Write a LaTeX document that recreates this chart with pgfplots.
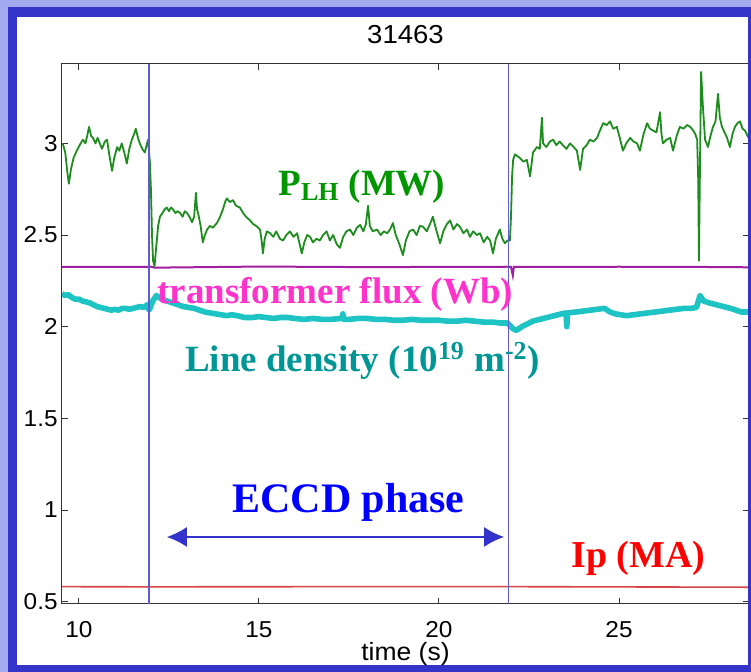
\documentclass[border=0pt]{standalone}
\usepackage{fontspec}
\setmainfont{Liberation Serif}
\newfontfamily\mlfont[FakeStretch=1.06]{Liberation Sans}
\usepackage{pgfplots}
\pgfplotsset{compat=1.18}
\usetikzlibrary{arrows.meta}
\definecolor{bgout}{RGB}{165,170,240}
\definecolor{frameblue}{RGB}{52,52,200}
\definecolor{plhline}{RGB}{30,140,30}
\definecolor{denline}{RGB}{30,195,195}
\definecolor{fluxline}{RGB}{160,30,160}
\definecolor{ipline}{RGB}{215,70,70}
\definecolor{vline}{RGB}{95,90,215}
\definecolor{plhtext}{RGB}{0,150,0}
\definecolor{fluxtext}{RGB}{255,51,204}
\definecolor{dentext}{RGB}{0,150,150}
\definecolor{eccdtext}{RGB}{0,0,255}
\definecolor{iptext}{RGB}{255,0,0}
\definecolor{arrowc}{RGB}{51,51,204}

\pgfplotstableread{
t v
9.55 3.00
9.62 2.95
9.68 2.84
9.72 2.78
9.78 2.86
9.85 2.92
9.94 2.96
10.02 2.99
10.11 3.02
10.18 3.00
10.24 3.05
10.28 3.09
10.34 3.04
10.39 3.03
10.46 3.00
10.52 3.03
10.58 3.00
10.64 2.97
10.72 3.01
10.78 3.02
10.85 2.93
10.92 2.85
10.98 2.92
11.06 2.98
11.12 2.96
11.19 3.00
11.26 2.95
11.33 2.89
11.40 2.97
11.47 3.02
11.53 3.05
11.58 3.08
11.64 3.03
11.69 3.00
11.76 2.97
11.83 2.95
11.88 2.99
11.92 3.02
11.97 2.90
12.00 2.75
12.03 2.50
12.06 2.36
12.10 2.33
12.14 2.42
12.20 2.55
12.25 2.60
12.32 2.62
12.38 2.64
12.44 2.65
12.50 2.63
12.56 2.65
12.61 2.64
12.68 2.62
12.74 2.63
12.81 2.62
12.88 2.60
12.94 2.63
13.00 2.62
13.07 2.60
13.14 2.57
13.20 2.60
13.25 2.73
13.28 2.64
13.31 2.62
13.38 2.55
13.44 2.46
13.50 2.50
13.56 2.53
13.64 2.55
13.72 2.54
13.83 2.565
13.92 2.60
14.00 2.64
14.06 2.68
14.11 2.70
14.19 2.68
14.28 2.69
14.36 2.66
14.47 2.65
14.56 2.62
14.64 2.60
14.75 2.58
14.84 2.56
14.92 2.55
15.03 2.53
15.08 2.46
15.11 2.40
15.16 2.48
15.22 2.52
15.31 2.51
15.40 2.49
15.48 2.52
15.58 2.48
15.67 2.47
15.76 2.50
15.86 2.52
15.96 2.49
16.06 2.51
16.13 2.45
16.19 2.40
16.26 2.46
16.34 2.50
16.42 2.49
16.50 2.46
16.60 2.48
16.69 2.47
16.78 2.50
16.88 2.52
16.97 2.47
17.06 2.50
17.16 2.45
17.25 2.43
17.34 2.49
17.43 2.52
17.53 2.53
17.62 2.50
17.72 2.54
17.81 2.555
17.90 2.52
17.97 2.56
18.03 2.66
18.08 2.55
18.16 2.52
18.28 2.53
18.38 2.50
18.47 2.52
18.56 2.51
18.64 2.53
18.72 2.565
18.80 2.50
18.90 2.45
19.00 2.39
19.08 2.47
19.18 2.52
19.28 2.53
19.38 2.50
19.47 2.55
19.56 2.545
19.66 2.52
19.75 2.56
19.83 2.60
19.92 2.53
20.03 2.455
20.12 2.52
20.22 2.56
20.31 2.58
20.40 2.53
20.50 2.56
20.58 2.545
20.68 2.51
20.78 2.53
20.86 2.49
20.95 2.52
21.05 2.50
21.14 2.51
21.24 2.46
21.34 2.49
21.42 2.47
21.50 2.40
21.58 2.48
21.69 2.53
21.76 2.48
21.83 2.455
21.90 2.47
21.97 2.47
22.00 2.60
22.03 2.82
22.06 2.91
22.11 2.94
22.18 2.93
22.25 2.92
22.34 2.90
22.44 2.91
22.53 2.82
22.61 2.95
22.72 2.98
22.80 2.97
22.86 3.14
22.89 3.00
22.98 2.98
23.08 3.01
23.17 3.02
23.26 2.99
23.35 3.01
23.44 2.99
23.54 2.97
23.64 3.00
23.74 2.98
23.83 2.96
23.92 2.855
24.00 2.97
24.10 2.99
24.19 3.02
24.29 3.01
24.39 3.03
24.47 3.07
24.56 3.11
24.66 3.10
24.75 3.12
24.84 3.08
24.94 3.09
25.02 3.03
25.11 2.96
25.20 3.00
25.31 3.03
25.40 3.01
25.50 3.00
25.58 2.96
25.68 3.05
25.78 3.11
25.86 3.08
25.94 3.07
26.04 3.06
26.14 3.17
26.18 3.05
26.22 3.00
26.32 3.02
26.42 3.03
26.50 2.96
26.60 3.04
26.69 3.09
26.79 3.08
26.89 3.10
26.98 3.09
27.06 3.07
27.12 3.05
27.17 3.02
27.20 2.80
27.22 2.36
27.25 2.90
27.28 3.39
27.33 3.20
27.39 3.02
27.47 2.98
27.54 3.04
27.61 3.09
27.68 3.12
27.75 3.27
27.80 3.14
27.86 3.09
27.93 3.06
28.00 3.03
28.08 2.98
28.15 3.05
28.22 3.09
28.29 3.11
28.36 3.12
28.43 3.08
28.50 3.07
28.57 3.04
28.64 3.02
}\plhdata

\pgfplotstableread{
t v
9.53 2.18
9.62 2.17
9.70 2.175
9.80 2.16
9.90 2.15
10.00 2.15
10.10 2.14
10.20 2.135
10.30 2.13
10.40 2.12
10.50 2.11
10.60 2.105
10.70 2.10
10.80 2.095
10.90 2.09
11.00 2.095
11.10 2.09
11.20 2.10
11.30 2.10
11.40 2.095
11.50 2.10
11.60 2.105
11.70 2.11
11.80 2.105
11.90 2.12
11.95 2.09
12.05 2.14
12.15 2.17
12.30 2.15
12.45 2.14
12.60 2.13
12.75 2.12
12.90 2.11
13.05 2.105
13.20 2.10
13.35 2.09
13.50 2.08
13.65 2.075
13.80 2.07
13.95 2.065
14.10 2.06
14.25 2.065
14.40 2.06
14.60 2.05
14.80 2.05
15.00 2.055
15.20 2.05
15.40 2.045
15.60 2.05
15.80 2.05
16.00 2.045
16.25 2.04
16.50 2.045
16.75 2.04
17.00 2.04
17.30 2.045
17.33 2.07
17.36 2.04
17.50 2.04
17.75 2.045
18.00 2.045
18.25 2.04
18.50 2.04
18.75 2.035
19.00 2.035
19.25 2.04
19.50 2.035
19.75 2.035
20.00 2.035
20.25 2.03
20.50 2.03
20.75 2.035
21.00 2.03
21.25 2.025
21.50 2.025
21.70 2.02
21.90 2.02
22.05 1.99
22.15 1.98
22.30 2.00
22.45 2.015
22.60 2.03
22.80 2.04
23.00 2.05
23.20 2.06
23.40 2.07
23.53 2.075
23.55 2.00
23.57 2.075
23.80 2.08
24.00 2.085
24.20 2.09
24.40 2.095
24.60 2.10
24.75 2.08
24.90 2.07
25.05 2.065
25.20 2.06
25.40 2.065
25.60 2.07
25.80 2.075
26.00 2.08
26.20 2.085
26.40 2.09
26.60 2.095
26.80 2.10
27.00 2.10
27.15 2.105
27.25 2.17
27.35 2.14
27.50 2.13
27.70 2.12
27.90 2.11
28.10 2.10
28.25 2.09
28.40 2.08
28.61 2.08
}\dendata

\begin{document}
\begin{tikzpicture}[x=1pt,y=1pt]
\useasboundingbox (0,0) rectangle (375.5,336);
\fill[bgout] (0,0) rectangle (375.5,336);
\fill[frameblue] (4,0) rectangle (376,332.5);
\fill[white] (8.5,3.5) rectangle (374,327.5);
\begin{axis}[
  at={(31pt,34pt)}, anchor=south west,
  width=343.5pt, height=270pt, scale only axis,
  xmin=9.53, xmax=28.61, ymin=0.4875, ymax=3.433,
  xtick={10,15,20,25}, ytick={0.5,1,1.5,2,2.5,3},
  tick align=inside, major tick length=3pt,
  axis line style={draw=black!80, line width=0.5pt},
  every tick/.style={black!80, line width=0.5pt},
  /pgf/number format/assume math mode=true,
  ticklabel style={font=\mlfont\fontsize{11.5}{13}\selectfont},
  xticklabel style={anchor=base, yshift=-17pt},
  yticklabel style={anchor=east, inner sep=0pt, xshift=-2pt},
]
\addplot[ipline, line width=0.8pt] coordinates {(9.53,0.582) (12,0.581) (17,0.582) (22,0.582) (28.61,0.579)};
\addplot[fluxline, line width=1pt] coordinates {(9.53,2.326) (12.0,2.327) (12.1,2.322) (15,2.328) (18,2.325) (21.9,2.327) (22.0,2.326) (22.05,2.28) (22.08,2.326) (25,2.327) (27.2,2.326) (28.61,2.324)};
\addplot[denline, line width=2.8pt, line join=round] table[x=t,y=v] {\dendata};
\addplot[plhline, line width=0.9pt, line join=round] table[x=t,y=v] {\plhdata};
\addplot[vline, line width=0.7pt] coordinates {(11.95,0.4875) (11.95,3.433)};
\addplot[vline, line width=0.7pt] coordinates {(21.93,0.4875) (21.93,3.433)};
\draw[arrowc, line width=1pt, {Latex[length=10pt,width=10pt]}-{Latex[length=10pt,width=10pt]}] (axis cs:12.44,0.853) -- (axis cs:21.81,0.853);
\node[anchor=base west, inner sep=0pt, text=plhtext, font=\bfseries\fontsize{18.5}{20}\selectfont] at (axis cs:15.53,2.718) {P\textsubscript{LH} (MW)};
\node[anchor=base west, inner sep=0pt, text=fluxtext, font=\bfseries\fontsize{18.5}{20}\selectfont] at (axis cs:12.17,2.128) {transformer flux (Wb)};
\node[anchor=base west, inner sep=0pt, text=dentext, font=\bfseries\fontsize{18.5}{20}\selectfont] at (axis cs:12.94,1.753) {Line density (10\textsuperscript{19} m\textsuperscript{-2})};
\node[anchor=base west, inner sep=0pt, text=eccdtext, font=\bfseries\fontsize{21}{24}\selectfont] at (axis cs:14.25,0.989) {ECCD phase};
\node[anchor=base west, inner sep=0pt, text=iptext, font=\bfseries\fontsize{19}{22}\selectfont] at (axis cs:23.67,0.689) {Ip (MA)};
\end{axis}
\node[anchor=base, inner sep=0pt, font=\mlfont\fontsize{13}{15}\selectfont] at (202.75,314) {31463};
\node[anchor=base, inner sep=0pt, font=\mlfont\fontsize{12.5}{14}\selectfont] at (202.75,5.5) {time (s)};
\fill[frameblue] (374,0) rectangle (375.5,332.5);
\end{tikzpicture}
\end{document}
